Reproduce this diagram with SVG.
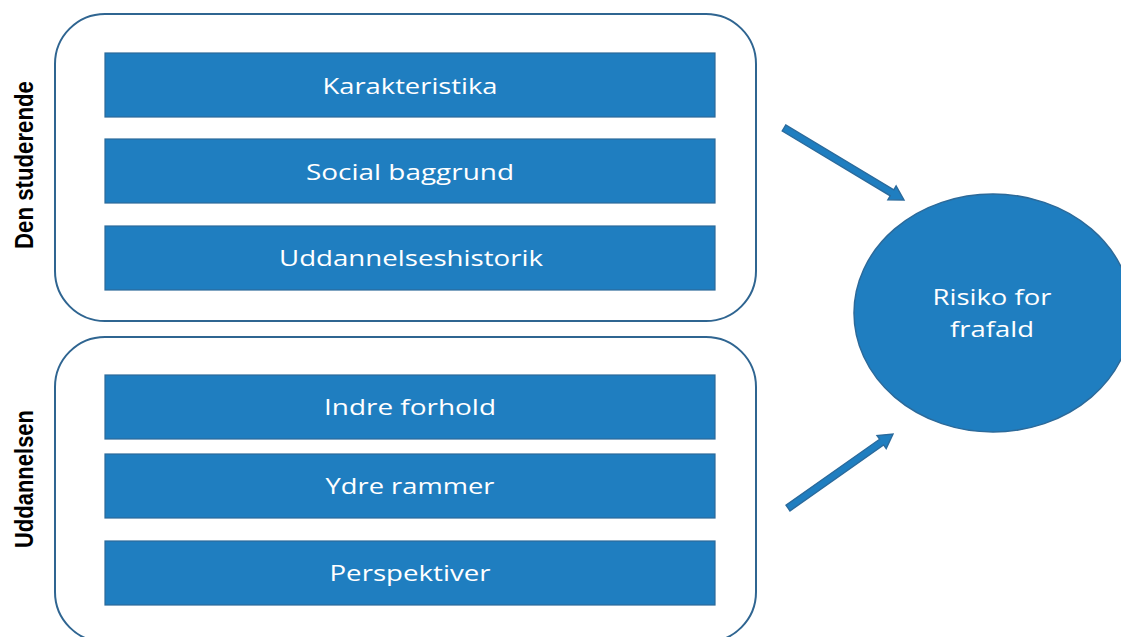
<svg xmlns="http://www.w3.org/2000/svg" width="1121" height="637" viewBox="0 0 1121 637">
<style>
.cont{fill:#ffffff;stroke:#2f6591;stroke-width:2}
.box{fill:#1f7ec0;stroke:#2c6a9a;stroke-width:1.2}
.bt{font-family:"Open Sans","Noto Sans",sans-serif;font-size:22.5px;fill:#ffffff;text-anchor:middle}
.side{font-family:"Liberation Sans",Arial,sans-serif;font-weight:bold;font-size:26px;fill:#000000;text-anchor:middle}
.arr{fill:#1f7ec0;stroke:#2a6a9c;stroke-width:1.4;stroke-linejoin:miter}
</style>
<rect width="1121" height="637" fill="#ffffff"/>
<g id="group-student">
<rect class="cont" x="55" y="14" width="701" height="307" rx="50" ry="50"/>
<text class="side" transform="translate(33,165) rotate(-90)" textLength="168" lengthAdjust="spacingAndGlyphs">Den studerende</text>
</g>
<g id="node-karakteristika">
<rect class="box" x="105" y="53" width="610" height="64"/>
<text class="bt" x="410" y="94" textLength="175" lengthAdjust="spacingAndGlyphs">Karakteristika</text>
</g>
<g id="node-social">
<rect class="box" x="105" y="139" width="610" height="64"/>
<text class="bt" x="410" y="180" textLength="208" lengthAdjust="spacingAndGlyphs">Social baggrund</text>
</g>
<g id="node-uddhist">
<rect class="box" x="105" y="226" width="610" height="64"/>
<text class="bt" x="411" y="266" textLength="264" lengthAdjust="spacingAndGlyphs">Uddannelseshistorik</text>
</g>
<g id="group-education">
<rect class="cont" x="55" y="337" width="701" height="305" rx="50" ry="50"/>
<text class="side" transform="translate(33,479) rotate(-90)" textLength="138" lengthAdjust="spacingAndGlyphs">Uddannelsen</text>
</g>
<g id="node-indre">
<rect class="box" x="105" y="375" width="610" height="64"/>
<text class="bt" x="410" y="415" textLength="172" lengthAdjust="spacingAndGlyphs">Indre forhold</text>
</g>
<g id="node-ydre">
<rect class="box" x="105" y="454" width="610" height="64"/>
<text class="bt" x="410" y="494" textLength="169" lengthAdjust="spacingAndGlyphs">Ydre rammer</text>
</g>
<g id="node-perspektiver">
<rect class="box" x="105" y="541" width="610" height="64"/>
<text class="bt" x="410" y="581" textLength="161" lengthAdjust="spacingAndGlyphs">Perspektiver</text>
</g>
<g id="node-risiko">
<ellipse cx="993" cy="313" rx="139" ry="119" fill="#1f7ec0" stroke="#2c6a9a" stroke-width="1.5"/>
<text class="bt" x="992" y="305" textLength="119" lengthAdjust="spacingAndGlyphs">Risiko for</text>
<text class="bt" x="992" y="337" textLength="84" lengthAdjust="spacingAndGlyphs">frafald</text>
</g>
<g id="connectors">
<polygon class="arr" points="782.2,131.0 890.2,195.8 887.9,199.7 904,200 896.1,185.9 893.8,189.8 785.8,125.0"/>
<polygon class="arr" points="790.0,510.9 883.6,444.9 886.2,448.6 893,434 877,435.6 879.6,439.2 786.0,505.1"/>
</g>
</svg>
